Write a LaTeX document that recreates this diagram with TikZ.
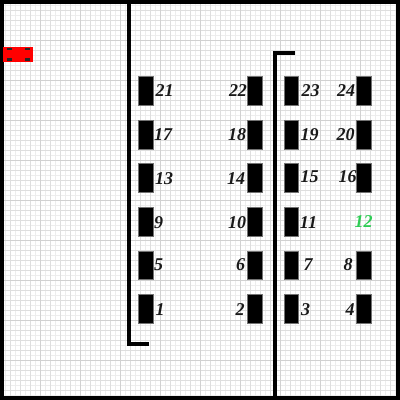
\documentclass[tikz,border=0pt]{standalone}
\usepackage{fontspec}
\setmainfont{Liberation Serif}
\tikzset{
  slotbox/.style={fill=black,draw=black!55!white,line width=0.3pt,minimum width=14.3pt,minimum height=28.8pt,inner sep=0pt,outer sep=0pt,anchor=center},
  numlabel/.style={font=\bfseries\itshape\fontsize{18}{18}\selectfont,text=black!90!white,inner sep=0pt},
  wall/.style={draw=black,line width=4pt,line cap=butt,line join=miter},
  wheel/.style={fill=black!85!white,draw=none,minimum width=5.3pt,minimum height=2.5pt,inner sep=0pt}
}
\begin{document}
\begin{tikzpicture}[x=1pt,y=-1pt]
\useasboundingbox (0,0) rectangle (400,400);
\fill[white] (0,0) rectangle (400,400);
\draw[black!7,line width=0.5pt] (0,0) grid[step=5pt] (400,400);
\draw[black!13,line width=0.6pt] (0,0) grid[step=10pt] (400,400);
\draw[black!18,line width=0.6pt] (0,0) grid[step=40pt] (400,400);
\draw[black,line width=4.4pt] (1.6,1.6) rectangle (398.2,398.2);
\coordinate (w1a) at (128.5,0);
\coordinate (w1b) at (128.5,343.5);
\coordinate (w1c) at (149,343.5);
\coordinate (w2a) at (274.7,400);
\coordinate (w2b) at (274.7,52.5);
\coordinate (w2c) at (295,52.5);
\draw[wall] (w1a) -- (w1b) -- (w1c);
\draw[wall] (w2a) -- (w2b) -- (w2c);
% car
\node[fill=red,minimum width=29.7pt,minimum height=15pt,inner sep=0pt] (car) at (18.15,54.5) {};
\node[wheel] (wa) at (9.4,48.8) {};
\node[wheel] (wb) at (27.4,48.8) {};
\node[wheel] (wc) at (9.4,59.7) {};
\node[wheel] (wd) at (27.4,59.7) {};
% slots
\foreach \r/\y in {0/90.5,1/134.5,2/177.8,3/221.7,4/265.2,5/308.8}{
  \node[slotbox] (a\r) at (145.5,\y) {};
  \node[slotbox] (b\r) at (254.5,\y) {};
  \node[slotbox] (c\r) at (291,\y) {};
  \ifnum\r=3\else\node[slotbox] (d\r) at (363.5,\y) {};\fi
}
% labels
\foreach \t/\x/\y in {21/164.5/90.5,22/238/90.5,23/310.5/90.5,24/346/90.5,
 17/163/134.5,18/237/134.5,19/309.5/134.5,20/345.5/134.5,
 13/164/178.5,14/236/178.5,15/309.5/177,16/347.5/177,
 9/158.5/222.5,10/237/222.5,11/308.5/222.5,
 5/158.5/265,6/240.5/265,7/308/265,8/348/265,
 1/160/309.5,2/240/309.5,3/305.5/309.5,4/350/309.5}{
  \node[numlabel] (n\t) at (\x,\y) {\t};
}
\node[numlabel,text={rgb,255:red,46;green,204;blue,84}] (n12) at (363.5,222) {12};
\end{tikzpicture}
\end{document}
